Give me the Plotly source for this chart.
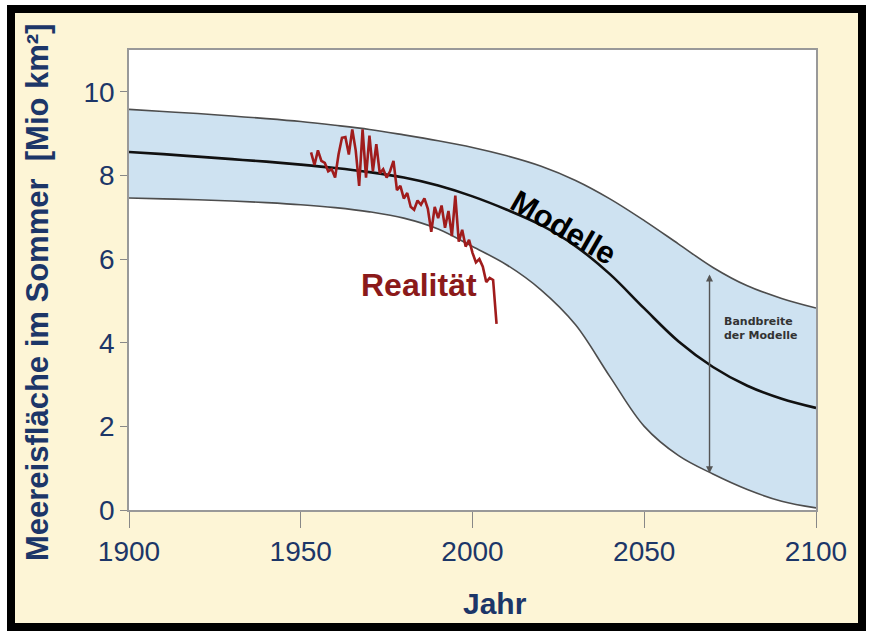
import plotly.graph_objects as go

# ---------------- data ----------------
model_years = [1900, 1910, 1920, 1930, 1940, 1950, 1960, 1970, 1980, 1990, 2000,
               2010, 2020, 2030, 2040, 2050, 2060, 2070, 2080, 2090, 2100]
model_upper = [9.58, 9.53, 9.48, 9.42, 9.36, 9.29, 9.20, 9.10, 8.97, 8.83, 8.67,
               8.47, 8.22, 7.88, 7.44, 6.92, 6.36, 5.80, 5.36, 5.06, 4.83]
model_mid   = [8.56, 8.51, 8.45, 8.39, 8.33, 8.26, 8.18, 8.08, 7.95, 7.76, 7.50,
               7.18, 6.81, 6.31, 5.64, 4.82, 4.03, 3.42, 2.97, 2.66, 2.44]
model_lower = [7.46, 7.44, 7.42, 7.39, 7.35, 7.30, 7.23, 7.13, 6.98, 6.72, 6.30,
               5.86, 5.26, 4.43, 3.19, 2.00, 1.30, 0.86, 0.49, 0.21, 0.05]

real_years = list(range(1953, 2008))
real_values = [
    8.55, 8.25, 8.60, 8.35, 8.30, 8.10, 8.15, 7.95, 8.50, 8.90,
    8.92, 8.50, 9.10, 8.60, 7.75, 9.10, 7.95, 8.95, 8.10, 8.75,
    8.05, 8.15, 7.95, 8.10, 8.35, 7.65, 7.75, 7.45, 7.58, 7.25,
    7.18, 7.40, 7.30, 7.45, 7.20, 6.65, 7.25, 6.98, 7.28, 6.75,
    7.15, 6.55, 7.52, 6.42, 6.70, 6.30, 6.46, 6.15, 5.92, 6.00,
    5.82, 5.45, 5.55, 5.50, 4.45,
]

x_ticks = [1900, 1950, 2000, 2050, 2100]
y_ticks = [0, 2, 4, 6, 8, 10]

arrow_year = 2069
arrow_top = 5.67
arrow_bottom = 0.88

# ---------------- layout geometry ----------------
W, H = 872, 634
ML, MR, MT, MB = 129, 56, 50, 124
PW, PH = W - ML - MR, H - MT - MB


def pxx(x):
    return (x - ML) / PW


def pxy(y):
    return (H - MB - y) / PH


NAVY = "#1c3668"
CREAM = "#fdf5d6"
BAND = "rgb(206,226,241)"
EDGE = "#4d4d4d"
RED = "#a01c1c"
SANS = "Liberation Sans, Arial, sans-serif"

fig = go.Figure()

fig.add_trace(go.Scatter(x=model_years, y=model_lower, mode="lines",
                         line=dict(color=EDGE, width=1.6, shape="spline", smoothing=1.0),
                         hoverinfo="skip", showlegend=False))
fig.add_trace(go.Scatter(x=model_years, y=model_upper, mode="lines",
                         line=dict(color=EDGE, width=1.6, shape="spline", smoothing=1.0),
                         fill="tonexty", fillcolor=BAND,
                         hoverinfo="skip", showlegend=False))
fig.add_trace(go.Scatter(x=model_years, y=model_mid, mode="lines",
                         line=dict(color="#111111", width=2.6, shape="spline", smoothing=1.0),
                         hoverinfo="skip", showlegend=False))
fig.add_trace(go.Scatter(x=real_years, y=real_values, mode="lines",
                         line=dict(color=RED, width=2.6),
                         hoverinfo="skip", showlegend=False))

shapes = [
    # cream card with black frame
    dict(type="rect", xref="paper", yref="paper", layer="below",
         x0=pxx(11), x1=pxx(862), y0=pxy(627), y1=pxy(9),
         fillcolor=CREAM, line=dict(color="black", width=8)),
    # white plot area
    dict(type="rect", xref="paper", yref="paper", layer="below",
         x0=0, x1=1, y0=0, y1=1, fillcolor="white", line=dict(width=0)),
]

annotations = [
    dict(text="<b>Meereisfläche im Sommer  [Mio km²]</b>", xref="paper", yref="paper",
         x=pxx(37), y=pxy(292), textangle=-90, showarrow=False,
         font=dict(family=SANS, size=31, color=NAVY),
         xanchor="center", yanchor="middle"),
    dict(text="<b>Jahr</b>", xref="paper", yref="paper",
         x=pxx(495), y=pxy(603), showarrow=False,
         font=dict(family=SANS, size=30, color=NAVY),
         xanchor="center", yanchor="middle"),
    dict(text="<b>Modelle</b>", x=2026.5, y=6.76, xref="x", yref="y",
         textangle=30, showarrow=False,
         font=dict(family=SANS, size=31, color="black")),
    dict(text="<b>Realität</b>", x=1984.4, y=5.38, xref="x", yref="y",
         showarrow=False,
         font=dict(family=SANS, size=32, color="#8b1a1a")),
    dict(text="<b>Bandbreite<br>der Modelle</b>", x=2072.6, y=4.33, xref="x", yref="y",
         showarrow=False, align="left", xanchor="left",
         font=dict(family="DejaVu Sans, sans-serif", size=11, color="#333333")),
    dict(x=arrow_year, y=arrow_bottom, ax=arrow_year, ay=arrow_top,
         xref="x", yref="y", axref="x", ayref="y", text="",
         showarrow=True, arrowhead=2, arrowside="end+start",
         arrowsize=1, arrowwidth=1.4, arrowcolor="#555555"),
]

tickfont = dict(family=SANS, size=28, color=NAVY)

fig.update_layout(
    width=W, height=H,
    margin=dict(l=ML, r=MR, t=MT, b=MB, pad=0),
    paper_bgcolor="white",
    plot_bgcolor="white",
    shapes=shapes,
    annotations=annotations,
    showlegend=False,
    hovermode=False,
    xaxis=dict(range=[1900, 2100], tickvals=x_ticks, ticktext=[str(v) for v in x_ticks],
               showgrid=False, zeroline=False, showline=True, linecolor="#999999",
               linewidth=1.5, mirror=True, ticks="outside", ticklen=16,
               tickcolor="#888888", tickwidth=1.3, tickfont=tickfont),
    yaxis=dict(range=[0, 11], tickvals=y_ticks, ticktext=[str(v) for v in y_ticks],
               showgrid=False, zeroline=False, showline=True, linecolor="#999999",
               linewidth=1.5, mirror=True, ticks="outside", ticklen=7,
               tickcolor="#888888", tickwidth=1.3, tickfont=tickfont),
)

fig.write_html("out.html", config=dict(displayModeBar=False),
               post_script="document.body.style.margin='0px';document.body.style.padding='0px';")
